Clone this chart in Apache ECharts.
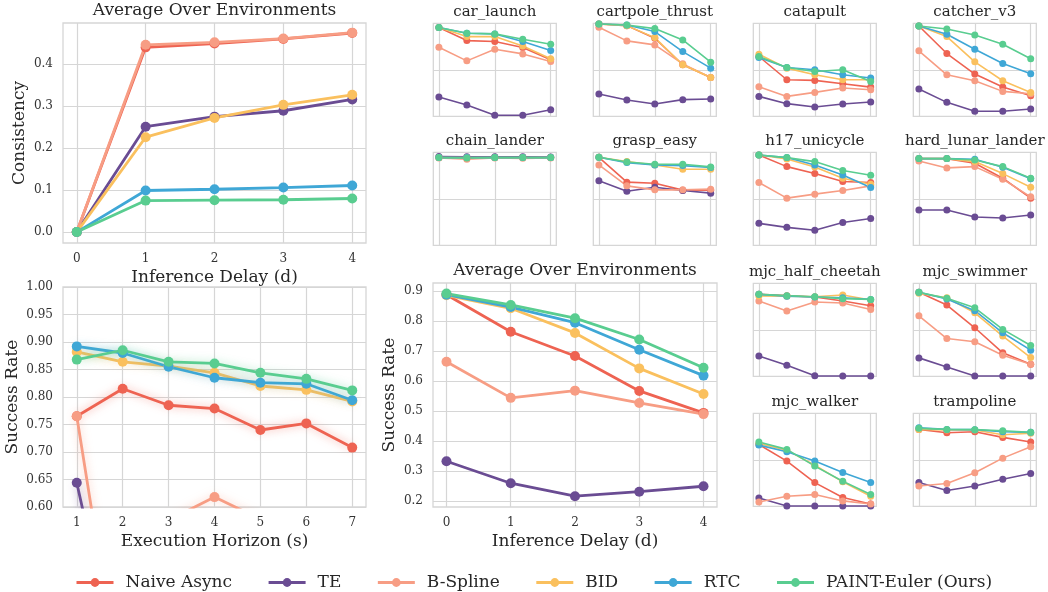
<!DOCTYPE html>
<html><head><meta charset="utf-8">
<script src="https://cdn.jsdelivr.net/npm/echarts@6/dist/echarts.min.js"></script>
<style>html,body{margin:0;padding:0;background:#fff}#c{width:1048px;height:592px}</style>
</head><body><div id="c"></div>
<script>
// ---------------- data ----------------
const methods = ['Naive Async', 'TE', 'B-Spline', 'BID', 'RTC', 'PAINT-Euler (Ours)'];
const colors = ['#EE6352', '#6A4C93', '#F79D84', '#FAC05E', '#3FA7D6', '#59CD90'];
const delays = [0, 1, 2, 3, 4];
const horizons = [1, 2, 3, 4, 5, 6, 7];
const consTicks = [0, 0.1, 0.2, 0.3, 0.4];
const midTicks = [0.2, 0.3, 0.4, 0.5, 0.6, 0.7, 0.8, 0.9];
const smallXTicks = [0, 2, 4];

// Consistency vs inference delay (rows: Naive, TE, B-Spline, BID, RTC, PAINT)
const consNaive   = [0, 0.440, 0.449, 0.460, 0.474];
const consTE      = [0, 0.251, 0.275, 0.289, 0.316];
const consBSpline = [0, 0.446, 0.452, 0.461, 0.475];
const consBID     = [0, 0.226, 0.272, 0.303, 0.327];
const consRTC     = [0, 0.099, 0.102, 0.106, 0.111];
const consPAINT   = [0, 0.075, 0.076, 0.077, 0.080];

// Success rate vs execution horizon
const horNaive   = [0.765, 0.815, 0.785, 0.779, 0.740, 0.752, 0.708];
const horTE      = [0.644, 0.270, 0.250, 0.280, 0.270, 0.270, 0.260];
const horBSpline = [0.765, 0.240, 0.576, 0.618, 0.578, 0.550, 0.520];
const horBID     = [0.882, 0.864, 0.856, 0.844, 0.820, 0.813, 0.792];
const horRTC     = [0.892, 0.880, 0.855, 0.835, 0.826, 0.824, 0.794];
const horPAINT   = [0.868, 0.885, 0.864, 0.861, 0.844, 0.833, 0.812];

// Average success rate vs inference delay
const avgNaive   = [0.887, 0.764, 0.683, 0.567, 0.494];
const avgTE      = [0.333, 0.260, 0.217, 0.232, 0.250];
const avgBSpline = [0.664, 0.544, 0.568, 0.527, 0.490];
const avgBID     = [0.885, 0.842, 0.760, 0.642, 0.557];
const avgRTC     = [0.887, 0.846, 0.794, 0.704, 0.618];
const avgPAINT   = [0.891, 0.853, 0.809, 0.738, 0.644];

// Per-environment success rate (rows: Naive, TE, B-Spline, BID, RTC, PAINT)
const car_launch = [
  [0.954, 0.814, 0.804, 0.739, 0.607],
  [0.207, 0.121, 0.011, 0.011, 0.071],
  [0.743, 0.596, 0.721, 0.671, 0.589],
  [0.954, 0.857, 0.857, 0.757, 0.618],
  [0.954, 0.893, 0.886, 0.804, 0.707],
  [0.954, 0.893, 0.886, 0.829, 0.775]];
const cartpole_thrust = [
  [0.993, 0.975, 0.839, 0.554, 0.418],
  [0.239, 0.175, 0.132, 0.179, 0.186],
  [0.957, 0.811, 0.768, 0.564, 0.418],
  [0.993, 0.975, 0.846, 0.554, 0.418],
  [0.993, 0.982, 0.911, 0.696, 0.518],
  [0.993, 0.982, 0.943, 0.821, 0.582]];
const catapult = [
  [0.643, 0.393, 0.386, 0.350, 0.314],
  [0.214, 0.136, 0.100, 0.132, 0.154],
  [0.318, 0.214, 0.257, 0.304, 0.286],
  [0.668, 0.518, 0.446, 0.393, 0.393],
  [0.632, 0.525, 0.500, 0.446, 0.411],
  [0.643, 0.525, 0.482, 0.500, 0.375]];
const catcher_v3 = [
  [0.971, 0.675, 0.454, 0.314, 0.221],
  [0.293, 0.150, 0.054, 0.054, 0.079],
  [0.704, 0.446, 0.382, 0.268, 0.243],
  [0.971, 0.857, 0.586, 0.382, 0.257],
  [0.971, 0.882, 0.721, 0.568, 0.457],
  [0.971, 0.939, 0.875, 0.775, 0.618]];
const chain_lander = [
  [0.943, 0.940, 0.943, 0.943, 0.943],
  [0.954, 0.952, 0.952, 0.952, 0.950],
  [0.940, 0.925, 0.940, 0.935, 0.940],
  [0.943, 0.943, 0.943, 0.943, 0.943],
  [0.943, 0.943, 0.943, 0.943, 0.943],
  [0.943, 0.940, 0.943, 0.943, 0.943]];
const grasp_easy = [
  [0.946, 0.679, 0.668, 0.593, 0.593],
  [0.693, 0.582, 0.625, 0.589, 0.561],
  [0.864, 0.639, 0.596, 0.596, 0.604],
  [0.946, 0.900, 0.864, 0.818, 0.818],
  [0.946, 0.889, 0.864, 0.857, 0.836],
  [0.946, 0.896, 0.871, 0.871, 0.843]];
const h17_unicycle = [
  [0.971, 0.846, 0.771, 0.686, 0.675],
  [0.236, 0.193, 0.161, 0.246, 0.289],
  [0.675, 0.507, 0.550, 0.589, 0.639],
  [0.971, 0.929, 0.843, 0.721, 0.657],
  [0.971, 0.943, 0.864, 0.757, 0.621],
  [0.971, 0.943, 0.900, 0.804, 0.754]];
const hard_lunar_lander = [
  [0.932, 0.932, 0.882, 0.721, 0.507],
  [0.379, 0.379, 0.304, 0.293, 0.325],
  [0.907, 0.832, 0.846, 0.711, 0.521],
  [0.932, 0.932, 0.900, 0.771, 0.625],
  [0.932, 0.932, 0.925, 0.840, 0.715],
  [0.932, 0.932, 0.918, 0.846, 0.721]];
const mjc_half_cheetah = [
  [0.881, 0.867, 0.853, 0.810, 0.759],
  [0.219, 0.119, 0.005, 0.003, 0.003],
  [0.810, 0.701, 0.799, 0.788, 0.719],
  [0.863, 0.860, 0.856, 0.874, 0.820],
  [0.881, 0.860, 0.853, 0.845, 0.827],
  [0.881, 0.867, 0.856, 0.835, 0.827]];
const mjc_swimmer = [
  [0.903, 0.766, 0.522, 0.252, 0.129],
  [0.198, 0.101, 0.003, 0.003, 0.003],
  [0.651, 0.406, 0.371, 0.227, 0.129],
  [0.892, 0.845, 0.683, 0.432, 0.201],
  [0.903, 0.831, 0.705, 0.468, 0.281],
  [0.903, 0.838, 0.737, 0.504, 0.331]];
const mjc_walker = [
  [0.665, 0.486, 0.255, 0.094, 0.025],
  [0.090, 0.003, 0.003, 0.003, 0.003],
  [0.047, 0.108, 0.126, 0.058, 0.025],
  [0.676, 0.604, 0.442, 0.263, 0.108],
  [0.658, 0.586, 0.486, 0.363, 0.255],
  [0.691, 0.612, 0.432, 0.270, 0.126]];
const trampoline = [
  [0.827, 0.791, 0.802, 0.741, 0.691],
  [0.255, 0.169, 0.219, 0.291, 0.353],
  [0.219, 0.245, 0.360, 0.518, 0.640],
  [0.827, 0.820, 0.820, 0.770, 0.785],
  [0.845, 0.827, 0.824, 0.802, 0.795],
  [0.838, 0.827, 0.824, 0.813, 0.795]];

const envNames = ['car_launch', 'cartpole_thrust', 'catapult', 'catcher_v3',
  'chain_lander', 'grasp_easy', 'h17_unicycle', 'hard_lunar_lander',
  'mjc_half_cheetah', 'mjc_swimmer', 'mjc_walker', 'trampoline'];
const envValues = [car_launch, cartpole_thrust, catapult, catcher_v3,
  chain_lander, grasp_easy, h17_unicycle, hard_lunar_lander,
  mjc_half_cheetah, mjc_swimmer, mjc_walker, trampoline];

// ---------------- layout / style ----------------
const FONT = 'DejaVu Serif';
const TXT = '#262626';
const GRIDC = '#d6d6d6';
const grids = [], xAxes = [], yAxes = [], series = [], graphics = [];

function hexA(hex, a) {
  const n = parseInt(hex.slice(1), 16);
  return `rgba(${(n >> 16) & 255},${(n >> 8) & 255},${n & 255},${a})`;
}
function addTitle(text, cx, cy, size) {
  graphics.push({type: 'text', x: cx, y: cy, silent: true,
    style: {text, fill: TXT, font: `${size}px "${FONT}"`, textAlign: 'center',
      textVerticalAlign: 'middle', verticalAlign: 'middle'}});
}
function addPanel(rect, xAxis, yAxis, rows, xs, opt) {
  const gi = grids.length;
  grids.push({left: rect[0], top: rect[1], width: rect[2], height: rect[3], show: true,
    borderColor: GRIDC, borderWidth: 1.3, backgroundColor: '#fff',
    containLabel: false, outerBoundsMode: 'none'});
  xAxes.push(Object.assign({type: 'value', gridIndex: gi,
    axisLine: {show: false},
    splitLine: {show: true, lineStyle: {color: GRIDC, width: 1.2}}}, xAxis));
  yAxes.push(Object.assign({type: 'value', gridIndex: gi,
    axisLine: {show: false},
    splitLine: {show: true, lineStyle: {color: GRIDC, width: 1.2}}}, yAxis));
  rows.forEach((ys, m) => {
    const ls = {color: colors[m], width: opt.lw};
    if (opt.glow) { ls.shadowBlur = 9; ls.shadowColor = hexA(colors[m], 0.55); }
    series.push({type: 'line', name: methods[m], xAxisIndex: gi, yAxisIndex: gi,
      data: xs.map((x, k) => [x, ys[k]]), symbol: 'circle', symbolSize: opt.ss,
      showSymbol: true, clip: true, silent: true, animation: false,
      lineStyle: ls, itemStyle: {color: colors[m], borderWidth: 0},
      emphasis: {disabled: true}});
  });
}
const labelStyle = {fontFamily: FONT, fontSize: 12, color: '#333'};
const nameStyle = {fontFamily: FONT, fontSize: 17, color: TXT};

// Top-left: consistency
addPanel([63, 23, 303, 220],
  {min: -0.2, max: 4.2, axisTick: {show: false, customValues: delays},
   axisLabel: Object.assign({customValues: delays, margin: 10}, labelStyle),
   name: 'Inference Delay (d)', nameLocation: 'middle', nameGap: 26, nameTextStyle: nameStyle},
  {min: -0.026, max: 0.498, axisTick: {show: false, customValues: consTicks},
   axisLabel: Object.assign({customValues: consTicks, margin: 10, formatter: v => v.toFixed(1)}, labelStyle),
   name: 'Consistency', nameLocation: 'middle', nameGap: 35, nameTextStyle: nameStyle},
  [consNaive, consTE, consBSpline, consBID, consRTC, consPAINT], delays, {lw: 2.8, ss: 10});
addTitle('Average Over Environments', 214.5, 11, 17);

// Bottom-left: execution horizon
addPanel([63, 287, 303, 220],
  {min: 0.7, max: 7.3, axisTick: {show: false, customValues: horizons},
   axisLabel: Object.assign({customValues: horizons, margin: 10}, labelStyle),
   name: 'Execution Horizon (s)', nameLocation: 'middle', nameGap: 26, nameTextStyle: nameStyle},
  {min: 0.6, max: 1.0, interval: 0.05, axisTick: {show: false},
   axisLabel: Object.assign({margin: 10, formatter: v => v.toFixed(2)}, labelStyle),
   name: 'Success Rate', nameLocation: 'middle', nameGap: 42, nameTextStyle: nameStyle},
  [horNaive, horTE, horBSpline, horBID, horRTC, horPAINT], horizons, {lw: 2.8, ss: 10, glow: true});

// Middle: average success
addPanel([433, 283, 284, 224],
  {min: -0.21, max: 4.21, axisTick: {show: false, customValues: delays},
   axisLabel: Object.assign({customValues: delays, margin: 10}, labelStyle),
   name: 'Inference Delay (d)', nameLocation: 'middle', nameGap: 26, nameTextStyle: nameStyle},
  {min: 0.181, max: 0.926, axisTick: {show: false, customValues: midTicks},
   axisLabel: Object.assign({customValues: midTicks, margin: 10, formatter: v => v.toFixed(1)}, labelStyle),
   name: 'Success Rate', nameLocation: 'middle', nameGap: 35, nameTextStyle: nameStyle},
  [avgNaive, avgTE, avgBSpline, avgBID, avgRTC, avgPAINT], delays, {lw: 2.8, ss: 10});
addTitle('Average Over Environments', 575, 271, 17);

// Small per-environment panels
const cols = [433.3, 593.3, 753.3, 913.3];
const rowsY = [23.3, 152.3, 283.3, 413.3];
const slots = [[0,0],[1,0],[2,0],[3,0],[0,1],[1,1],[2,1],[3,1],[2,2],[3,2],[2,3],[3,3]];
envNames.forEach((nm, i) => {
  const [c, r] = slots[i];
  const x = cols[c], y = rowsY[r];
  addPanel([x, y, 123, 93],
    {min: -0.2, max: 4.2, axisTick: {show: false, customValues: smallXTicks}, axisLabel: {show: false}},
    {min: 0, max: 1, interval: 0.5, axisTick: {show: false}, axisLabel: {show: false}},
    envValues[i], delays, {lw: 1.6, ss: 7});
  addTitle(nm, x + 61.5, y - 11.3, 15);
});

const chart = echarts.init(document.getElementById('c'), null, {renderer: 'canvas'});
chart.setOption({
  animation: false,
  backgroundColor: '#fff',
  textStyle: {fontFamily: FONT},
  grid: grids, xAxis: xAxes, yAxis: yAxes, series: series,
  graphic: graphics,
  legend: {data: methods, left: 75, top: 574, padding: 0, itemWidth: 37, itemHeight: 11,
    itemGap: 35, lineStyle: {width: 3}, selectedMode: false,
    textStyle: {fontFamily: FONT, fontSize: 17, color: TXT, padding: [0, 0, 0, 7]}}
});
</script></body></html>
